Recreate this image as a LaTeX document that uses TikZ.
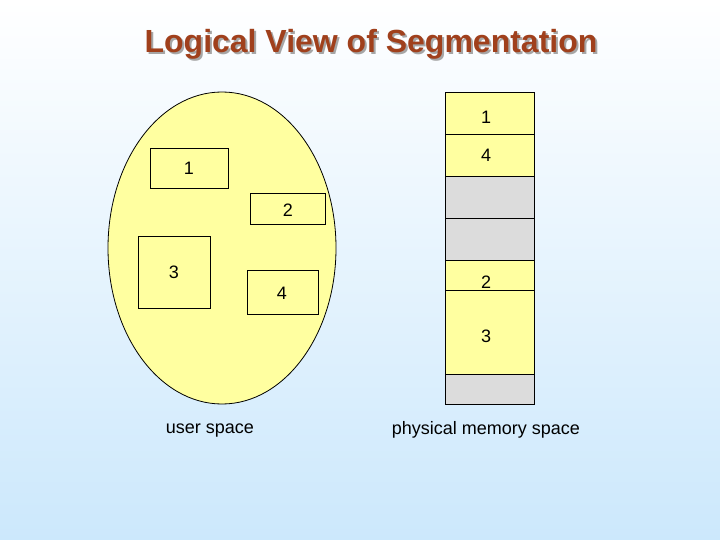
\documentclass[tikz,border=0pt]{standalone}
\usepackage{fontspec}
\setmainfont{Liberation Sans}
\definecolor{yel}{HTML}{FFFFA0}
\definecolor{gry}{HTML}{DCDCDC}
\definecolor{bgtop}{HTML}{FFFFFF}
\definecolor{bgbot}{HTML}{CCE8FC}
\definecolor{ttl}{HTML}{A0401C}
\newcommand{\ttltext}{Logical View of Segmentation}
\begin{document}
\begin{tikzpicture}[x=1pt,y=-1pt,
  seg/.style={draw=black,fill=yel,line width=0.8pt},
  hole/.style={draw=black,fill=gry,line width=0.8pt},
  lbl/.style={font=\fontsize{18}{20}\selectfont}]
\shade[top color=bgtop,bottom color=bgbot] (0,0) rectangle (720,540);
\useasboundingbox (0,0) rectangle (720,540);
\node[font=\bfseries\fontsize{32}{35}\selectfont] (title) at (371,45)
  {\makebox[0pt][l]{\hspace{2pt}\raisebox{-2pt}{\textcolor{gray!70}{\ttltext}}}\textcolor{ttl}{\ttltext}};
% user space
\draw[seg] (222,248) ellipse [x radius=114, y radius=156];
\draw[seg] (150,148) rectangle (228,188);
\node[lbl] (u1) at (189,168) {1};
\draw[seg] (250,193) rectangle (325,224);
\node[lbl] (u2) at (288,210) {2};
\draw[seg] (138,236) rectangle (210,308);
\node[lbl] (u3) at (174,272) {3};
\draw[seg] (247,270) rectangle (318,314);
\node[lbl] (u4) at (282,293) {4};
\node[lbl] (us) at (210,431) {user space};
% memory
\draw[seg] (445,92) rectangle (534,134);
\node[lbl] (m1) at (486,117) {1};
\draw[seg] (445,134) rectangle (534,176);
\node[lbl] (m4) at (486,155) {4};
\draw[hole] (445,176) rectangle (534,218);
\draw[hole] (445,218) rectangle (534,260);
\draw[seg] (445,260) rectangle (534,290);
\node[lbl] (m2) at (486,282) {2};
\draw[seg] (445,290) rectangle (534,374);
\node[lbl] (m3) at (486,336) {3};
\draw[hole] (445,374) rectangle (534,404);
\node[lbl] (ps) at (486,430) {physical memory space};
\end{tikzpicture}
\end{document}
